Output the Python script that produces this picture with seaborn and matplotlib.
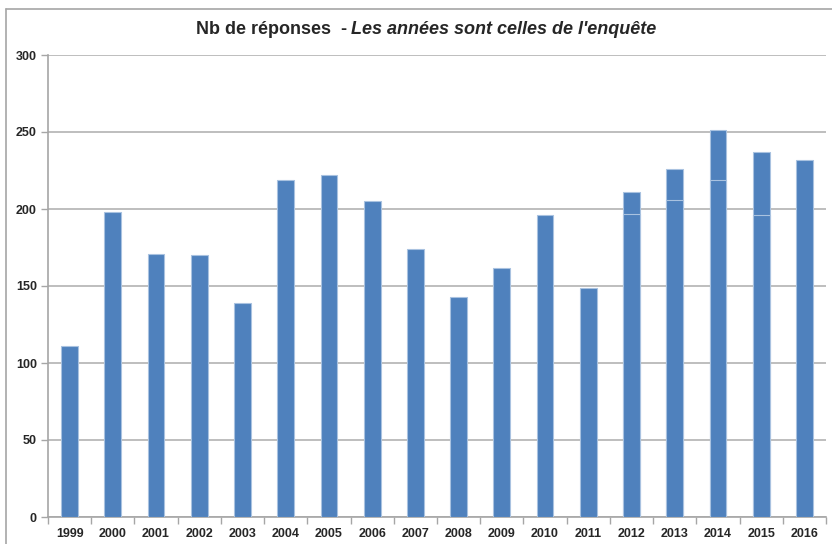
import matplotlib
matplotlib.use("Agg")
import matplotlib.pyplot as plt
import seaborn as sns
import numpy as np
import pandas as pd
from matplotlib.lines import Line2D

# Données
years = ["1999", "2000", "2001", "2002", "2003", "2004", "2005", "2006", "2007",
         "2008", "2009", "2010", "2011", "2012", "2013", "2014", "2015", "2016"]
responses = [111, 198, 171, 170, 139, 219, 222, 205, 174,
             143, 162, 196, 149, 211, 226, 251, 237, 232]
# partie basse visible (fine ligne claire) dans certaines barres
lower_part = [np.nan] * 13 + [197, 206, 219, 196, np.nan]
yticks = [0, 50, 100, 150, 200, 250, 300]

sns.set_style("white")
plt.rcParams["font.family"] = ["Liberation Sans Narrow", "Liberation Sans", "DejaVu Sans"]

df = pd.DataFrame({"year": years, "total": responses, "low": lower_part})

fig = plt.figure(figsize=(8.32, 5.44), dpi=100)
ax = fig.add_axes([48 / 832, 1 - 517 / 544, (826 - 48) / 832, (517 - 55) / 544])

blue = "#4F81BD"
edge = "#A9C2E0"
sns.barplot(data=df, x="year", y="total", order=years, color=blue, saturation=1,
            width=0.39, edgecolor=edge, linewidth=0.8, ax=ax, zorder=3)
sns.barplot(data=df, x="year", y="low", order=years, color=blue, saturation=1,
            width=0.39, edgecolor=edge, linewidth=0.8, ax=ax, zorder=4)

ax.set_ylim(0, 300)
ax.set_xlim(-0.5, len(years) - 0.5)
ax.set_yticks(yticks)
ax.set_yticklabels([str(t) for t in yticks], fontweight="bold", fontsize=9)
ax.set_xticks(np.arange(len(years)))
ax.set_xticklabels(years, fontweight="bold", fontsize=9)
ax.set_xlabel("")
ax.set_ylabel("")

ax.grid(axis="y", color="#B3B3B3", linewidth=1.2, zorder=0)
ax.set_axisbelow(True)
for s in ["top", "right"]:
    ax.spines[s].set_visible(False)
for s in ["left", "bottom"]:
    ax.spines[s].set_color("#A6A6A6")
    ax.spines[s].set_linewidth(1.2)

# graduations : y vers l'extérieur, x entre les catégories
ax.tick_params(axis="y", which="major", direction="out", length=5, color="#A6A6A6",
               width=1, pad=3, left=True)
ax.tick_params(axis="x", which="major", length=0, pad=8)
ax.set_xticks(np.arange(len(years) + 1) - 0.5, minor=True)
ax.tick_params(axis="x", which="minor", direction="out", length=5, color="#A6A6A6",
               width=1, bottom=True)

# titre en deux morceaux (gras + gras italique)
fig.text(347 / 832, 1 - 30 / 544, "Nb de réponses  -", ha="right", va="center",
         fontsize=13, fontweight="bold")
fig.text(351 / 832, 1 - 30 / 544, "Les années sont celles de l'enquête", ha="left",
         va="center", fontsize=13, fontweight="bold", fontstyle="italic")

# cadre de la zone de graphique (gauche et haut)
fig.add_artist(Line2D([6 / 832, 6 / 832], [0, 1 - 9 / 544], color="#A6A6A6", lw=1.2))
fig.add_artist(Line2D([6 / 832, 1], [1 - 9 / 544, 1 - 9 / 544], color="#A6A6A6", lw=1.2))

fig.savefig("out.png", dpi=100)
